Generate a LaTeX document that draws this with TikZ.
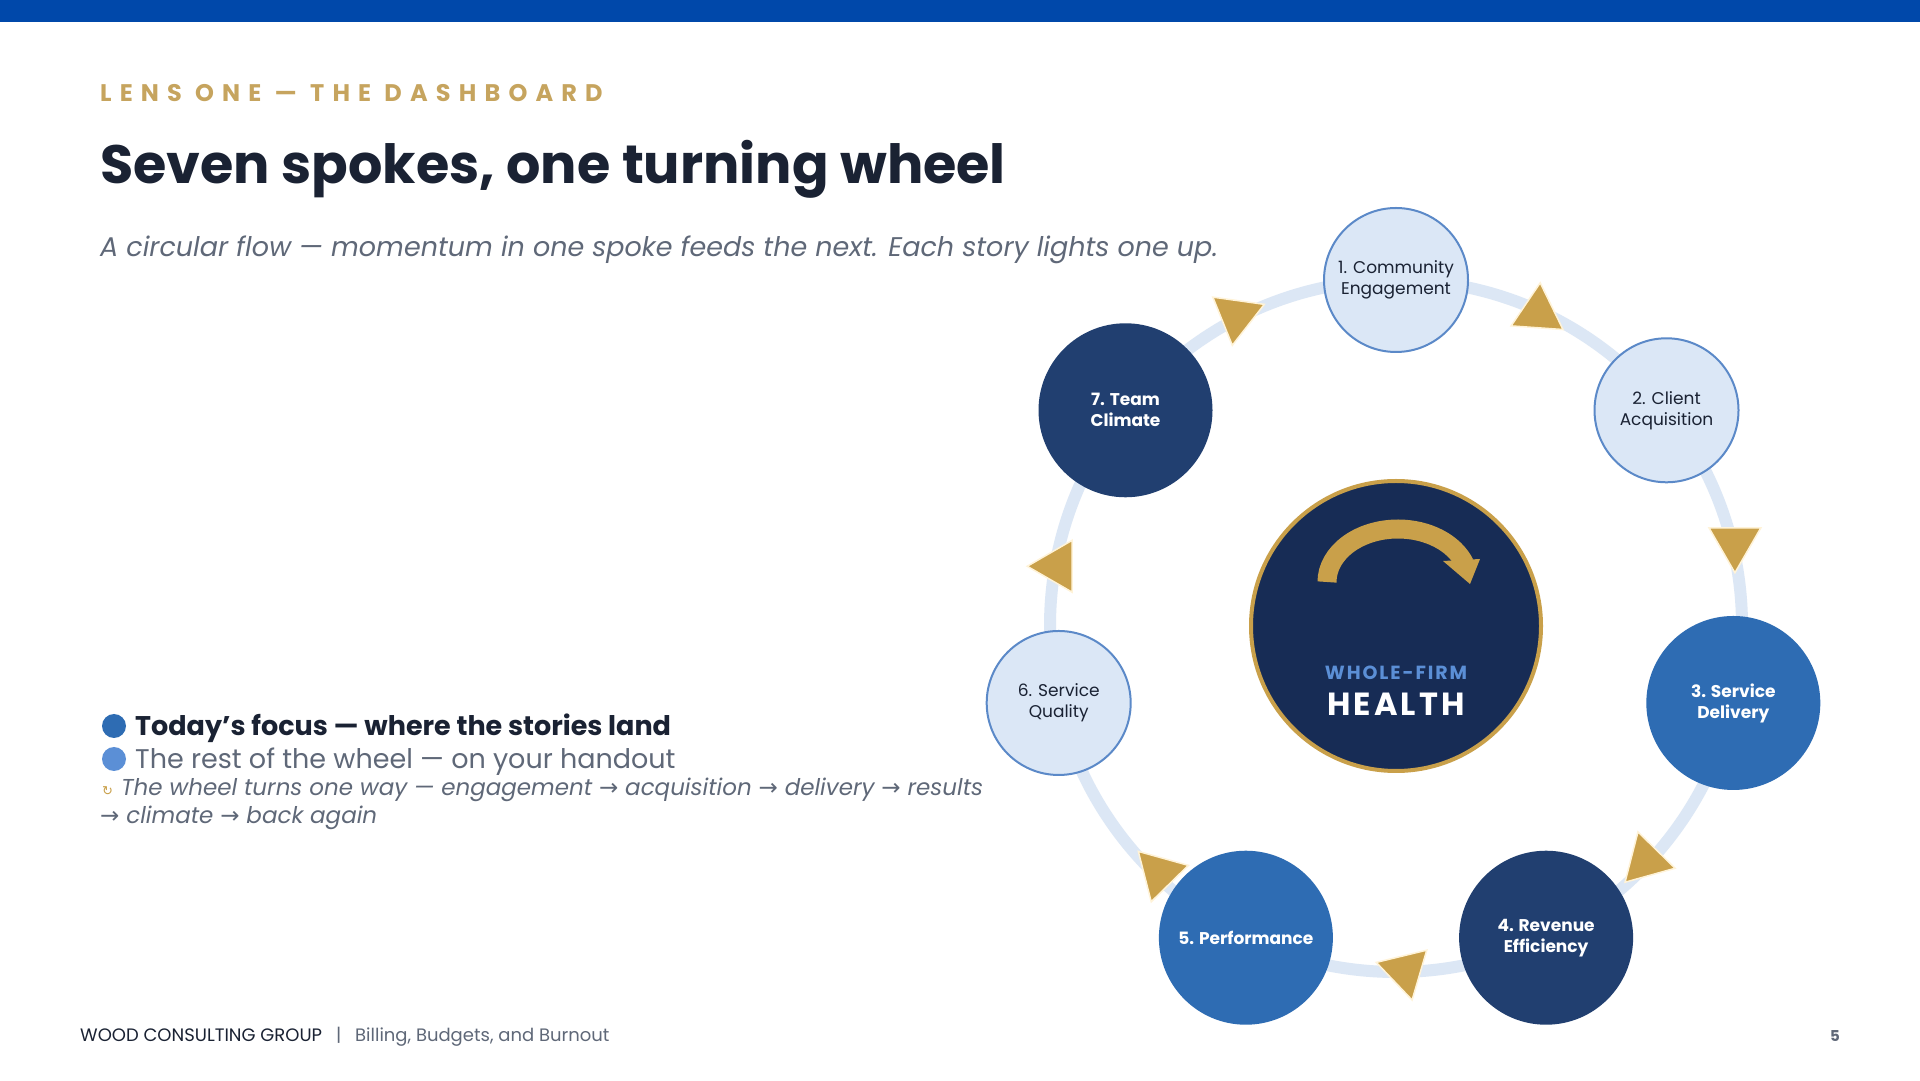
\documentclass[tikz,border=0pt]{standalone}
\usepackage{fontspec}
\setmainfont{Poppins}
\newfontfamily\trackfont{Poppins}[LetterSpace=34]
\newfontfamily\hubfont{Poppins}[LetterSpace=10]
\newfontfamily\symfont{DejaVu Sans}
\usetikzlibrary{shapes.geometric}

\definecolor{topblue}{HTML}{0048AA}
\definecolor{gold}{HTML}{C9A04A}
\definecolor{labelgold}{HTML}{C6A45E}
\definecolor{ink}{HTML}{1A2233}
\definecolor{slate}{HTML}{5F6878}
\definecolor{ringblue}{HTML}{DCE7F5}
\definecolor{paleblue}{HTML}{DBE7F6}
\definecolor{edgeblue}{HTML}{5B89C8}
\definecolor{focusblue}{HTML}{2E6CB3}
\definecolor{deepblue}{HTML}{213F70}
\definecolor{hubnavy}{HTML}{172C55}
\definecolor{restblue}{HTML}{5B8FD6}
\definecolor{cream}{HTML}{FFF3D8}

\newcommand{\pxfont}[2]{\fontsize{#1}{#2}\selectfont}

\tikzset{
    lightspoke/.style={circle,minimum size=144,inner sep=0,fill=paleblue,draw=edgeblue,line width=2,
        text=ink,align=center,font=\pxfont{17}{21}},
    focusspoke/.style={circle,minimum size=174,inner sep=0,fill=focusblue,
        text=white,align=center,font=\pxfont{17}{21}\bfseries},
    deepspoke/.style={circle,minimum size=174,inner sep=0,fill=deepblue,
        text=white,align=center,font=\pxfont{17}{21}\bfseries},
    flowtip/.style={regular polygon,regular polygon sides=3,minimum size=60,inner sep=0,
        fill=gold,draw=cream,line width=1.5},
    plain/.style={inner sep=0,anchor=base west}
}

\begin{document}
\begin{tikzpicture}[x=1pt,y=1pt]
                        \useasboundingbox[fill=white] (0,0) rectangle (1920,1080);
                        \fill[topblue] (0,1058) rectangle (1920,1080);

                        \node[plain,text=labelgold,font=\trackfont\bfseries\pxfont{24}{28}] (kicker) at (100,978) {LENS ONE — THE DASHBOARD};
                        \node[plain,text=ink,font=\bfseries\pxfont{54}{64}] (title) at (100,896) {Seven spokes, one turning wheel};
                        \node[plain,text=slate,font=\itshape\pxfont{27}{32}] (subtitle) at (100,823) {A circular flow — momentum in one spoke feeds the next. Each story lights one up.};

                        \begin{scope}[shift={(1396,454)}]
                            \draw[ringblue,line width=12] (0,0) circle (346);

                            \node[circle,minimum size=290,inner sep=0,fill=hubnavy,draw=gold,line width=4] (hub) at (0,0) {};
                            \draw[gold,line width=19] (-69,44) arc[start angle=180,end angle=20,x radius=71,y radius=53];
                            \fill[gold] (47,65) -- (84,67) -- (74,42) -- cycle;
                            \node[inner sep=0,text=restblue,font=\hubfont\bfseries\pxfont{19}{22}] (whole) at (0,-47) {WHOLE-FIRM};
                            \node[inner sep=0,text=white,font=\hubfont\bfseries\pxfont{32}{36}] (health) at (0,-78) {HEALTH};

                            \foreach \i/\txt/\kind in {1/{1. Community\\Engagement}/lightspoke,
                                                       2/{2. Client\\Acquisition}/lightspoke,
                                                       3/{3. Service\\Delivery}/focusspoke,
                                                       4/{4. Revenue\\Efficiency}/deepspoke,
                                                       5/{5. Performance}/focusspoke,
                                                       6/{6. Service\\Quality}/lightspoke,
                                                       7/{7. Team\\Climate}/deepspoke}
                                \node[\kind] (spoke\i) at ({90-(\i-1)*360/7}:346) {\txt};

                            \foreach \a/\r/\rot [count=\t] in {65.6/344/-4, 13.8/349/180, -43.2/343/15.6,
                                                              -88.5/345/-46.4, -133.8/342/-75.6, 170/344/90, 117.2/349/-68}
                                \node[flowtip,rotate=\rot] (tip\t) at (\a:\r) {};
                        \end{scope}

                        \node[circle,minimum size=24,inner sep=0,fill=focusblue] (focusdot) at (114,354) {};
                        \node[plain,text=ink,font=\bfseries\pxfont{27}{30}] (focusline) at (135,344) {Today's focus — where the stories land};
                        \node[circle,minimum size=24,inner sep=0,fill=restblue] (restdot) at (114,321) {};
                        \node[plain,text=slate,font=\pxfont{27}{30}] (restline) at (135,311) {The rest of the wheel — on your handout};
                        \node[plain,text=gold,font=\symfont\pxfont{13}{16}] (turnmark) at (102,284) {↻};
                        \node[plain,text=slate,font=\itshape\pxfont{23}{26}] (turnline) at (121,284) {The wheel turns one way — engagement {\symfont→} acquisition {\symfont→} delivery {\symfont→} results};
                        \node[plain,text=slate,font=\itshape\pxfont{23}{26}] (turnrest) at (100,257) {{\symfont→} climate {\symfont→} back again};

                        \node[plain,text=ink,font=\pxfont{18}{21}] (firm) at (80,39) {WOOD CONSULTING GROUP};
                        \node[plain,text=slate,font=\pxfont{18}{21}] (bar) at (336,39) {|};
                        \node[plain,text=slate,font=\pxfont{18}{21}] (deck) at (355,39) {Billing, Budgets, and Burnout};
                        \node[plain,text=slate,font=\bfseries\pxfont{15}{18}] (page) at (1830,39) {5};
                    \end{tikzpicture}
\end{document}
